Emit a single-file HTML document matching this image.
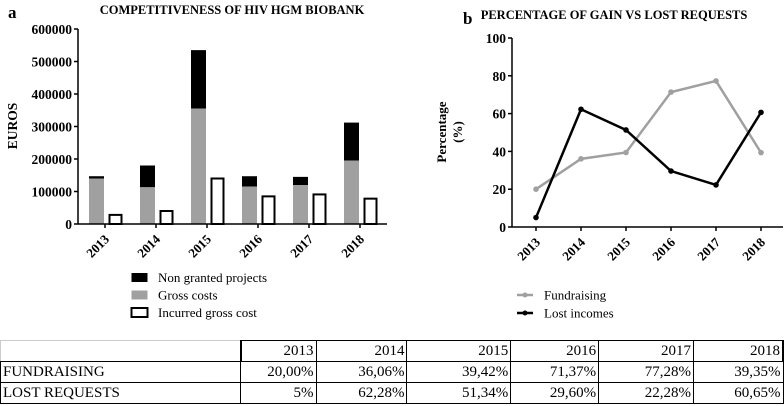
<!DOCTYPE html>
<html><head><meta charset="utf-8"><style>
body{margin:0;width:784px;height:406px;background:#fff;overflow:hidden;font-family:"Liberation Serif",serif}
svg{position:absolute;left:0;top:0}
table{position:absolute;left:0;top:340px;border-collapse:collapse;font-family:"Liberation Serif",serif;font-size:15px}
td{border:1px solid #000;height:20px;padding:0 2px;text-align:right;line-height:20px}
td.l{text-align:left}
</style></head><body>
<svg id="s" width="784" height="340" font-family="Liberation Serif, serif"></svg>
<table>
<tr><td class="l" style="width:235px;border-top-color:#ccc;border-left-color:#ccc"></td><td style="width:70px;border-left-width:2px">2013</td><td style="width:86px">2014</td><td style="width:99px">2015</td><td style="width:83px">2016</td><td style="width:90px">2017</td><td style="width:84px;border-right-width:2px">2018</td></tr>
<tr><td class="l">FUNDRAISING</td><td>20,00%</td><td>36,06%</td><td>39,42%</td><td>71,37%</td><td>77,28%</td><td>39,35%</td></tr>
<tr><td class="l">LOST REQUESTS</td><td>5%</td><td>62,28%</td><td>51,34%</td><td>29,60%</td><td>22,28%</td><td>60,65%</td></tr>
</table>
<script>
const years=['2013','2014','2015','2016','2017','2018'];
const grossCosts=[140000,113000,355000,115000,120000,195000];
const totalRequested=[147000,180000,535000,147000,145000,312000];
const incurredCost=[28000,40000,140000,85000,91000,78000];
const ticksA=[0,100000,200000,300000,400000,500000,600000];
const fundraising=[20.00,36.06,39.42,71.37,77.28,39.35];
const lostIncomes=[5,62.28,51.34,29.60,22.28,60.65];
const ticksB=[0,20,40,60,80,100];
const s=document.getElementById('s');
const NS='http://www.w3.org/2000/svg';
function el(t,a,txt){const e=document.createElementNS(NS,t);for(const k in a)e.setAttribute(k,a[k]);if(txt!==undefined)e.textContent=txt;s.appendChild(e);return e;}
// Chart A
const ya=v=>224-v*(195/600000);
const xa=i=>105+i*51;
let e;
e=el('text',{x:8,y:18,'font-size':17,'font-weight':'bold'},'a');


e=el('text',{x:232,y:14,'font-size':12.5,'font-weight':'bold','text-anchor':'middle'},'COMPETITIVENESS OF HIV HGM BIOBANK');


e=el('text',{x:17,y:126,'font-size':13.5,'font-weight':'bold','text-anchor':'middle',transform:'rotate(-90 17 126)'},'EUROS');


years.forEach((y,i)=>{
 const x=xa(i);
 e=el('rect',{x:x-16,y:ya(totalRequested[i]),width:15,height:ya(grossCosts[i])-ya(totalRequested[i]),fill:'#000'});
 
 
 e=el('rect',{x:x-16,y:ya(grossCosts[i]),width:15,height:224-ya(grossCosts[i]),fill:'#a0a0a0'});
 
 
 e=el('rect',{x:x+4.5,y:ya(incurredCost[i]),width:12,height:224-ya(incurredCost[i]),fill:'#fff',stroke:'#000','stroke-width':2});
 
 
 el('line',{x1:x,x2:x,y1:224,y2:228,stroke:'#000','stroke-width':1.5});
 e=el('text',{x:x+5,y:240,'font-size':13,'font-weight':'bold','text-anchor':'end',transform:`rotate(-45 ${x+5} 240)`},y);
 
 
});
el('line',{x1:78,x2:78,y1:29,y2:224,stroke:'#000','stroke-width':1.5});
el('line',{x1:78,x2:387,y1:224,y2:224,stroke:'#000','stroke-width':1.5});
ticksA.forEach(t=>{
 el('line',{x1:74,x2:78,y1:ya(t),y2:ya(t),stroke:'#000','stroke-width':1.5});
 e=el('text',{x:72,y:ya(t)+5,'font-size':13.5,'font-weight':'bold','text-anchor':'end'},String(t));
 
 
});
[['#000','none','Non granted projects'],['#a0a0a0','none','Gross costs'],['#fff','#000','Incurred gross cost']].forEach((l,i)=>{
 const y=273+i*17.5;
 el('rect',{x:131.5,y:y,width:16,height:9,fill:l[0],stroke:l[1],'stroke-width':2});
 e=el('text',{x:158,y:y+9,'font-size':13},l[2]);
 
 
});
// Chart B
const yb=v=>227-v*1.89;
const xb=i=>536+i*45;
e=el('text',{x:463,y:24,'font-size':17,'font-weight':'bold'},'b');


e=el('text',{x:614,y:19,'font-size':12.5,'font-weight':'bold','text-anchor':'middle'},'PERCENTAGE OF GAIN VS LOST REQUESTS');


e=el('text',{x:446,y:132,'font-size':13,'font-weight':'bold','text-anchor':'middle',transform:'rotate(-90 446 132)'},'Percentage');


el('text',{x:462,y:132,'font-size':13,'font-weight':'bold','text-anchor':'middle',transform:'rotate(-90 462 132)'},'(%)');
el('line',{x1:512,x2:512,y1:38,y2:227,stroke:'#000','stroke-width':1.5});
el('line',{x1:512,x2:783,y1:227,y2:227,stroke:'#000','stroke-width':1.5});
ticksB.forEach(t=>{
 el('line',{x1:508,x2:512,y1:yb(t),y2:yb(t),stroke:'#000','stroke-width':1.5});
 e=el('text',{x:506,y:yb(t)+5,'font-size':13.5,'font-weight':'bold','text-anchor':'end'},String(t));
 
 
});
years.forEach((y,i)=>{
 const x=xb(i);
 el('line',{x1:x,x2:x,y1:227,y2:231,stroke:'#000','stroke-width':1.5});
 e=el('text',{x:x+5,y:243,'font-size':13,'font-weight':'bold','text-anchor':'end',transform:`rotate(-45 ${x+5} 243)`},y);
 
 
});
[[fundraising,'#a0a0a0','fundraising'],[lostIncomes,'#000','lost-incomes']].forEach(sr=>{
 e=el('polyline',{points:sr[0].map((v,i)=>xb(i)+','+yb(v)).join(' '),fill:'none',stroke:sr[1],'stroke-width':2.5});
 
 
 sr[0].forEach((v,i)=>{
  e=el('circle',{cx:xb(i),cy:yb(v),r:2.8,fill:sr[1]});
  
  
 });
});
[['#a0a0a0','Fundraising'],['#000','Lost incomes']].forEach((l,i)=>{
 const y=295+i*18;
 el('line',{x1:517,x2:533,y1:y,y2:y,stroke:l[0],'stroke-width':2.5});
 el('circle',{cx:525,cy:y,r:2.5,fill:l[0]});
 e=el('text',{x:544,y:y+4.5,'font-size':13},l[1]);
 
 
});
</script>
</body></html>
